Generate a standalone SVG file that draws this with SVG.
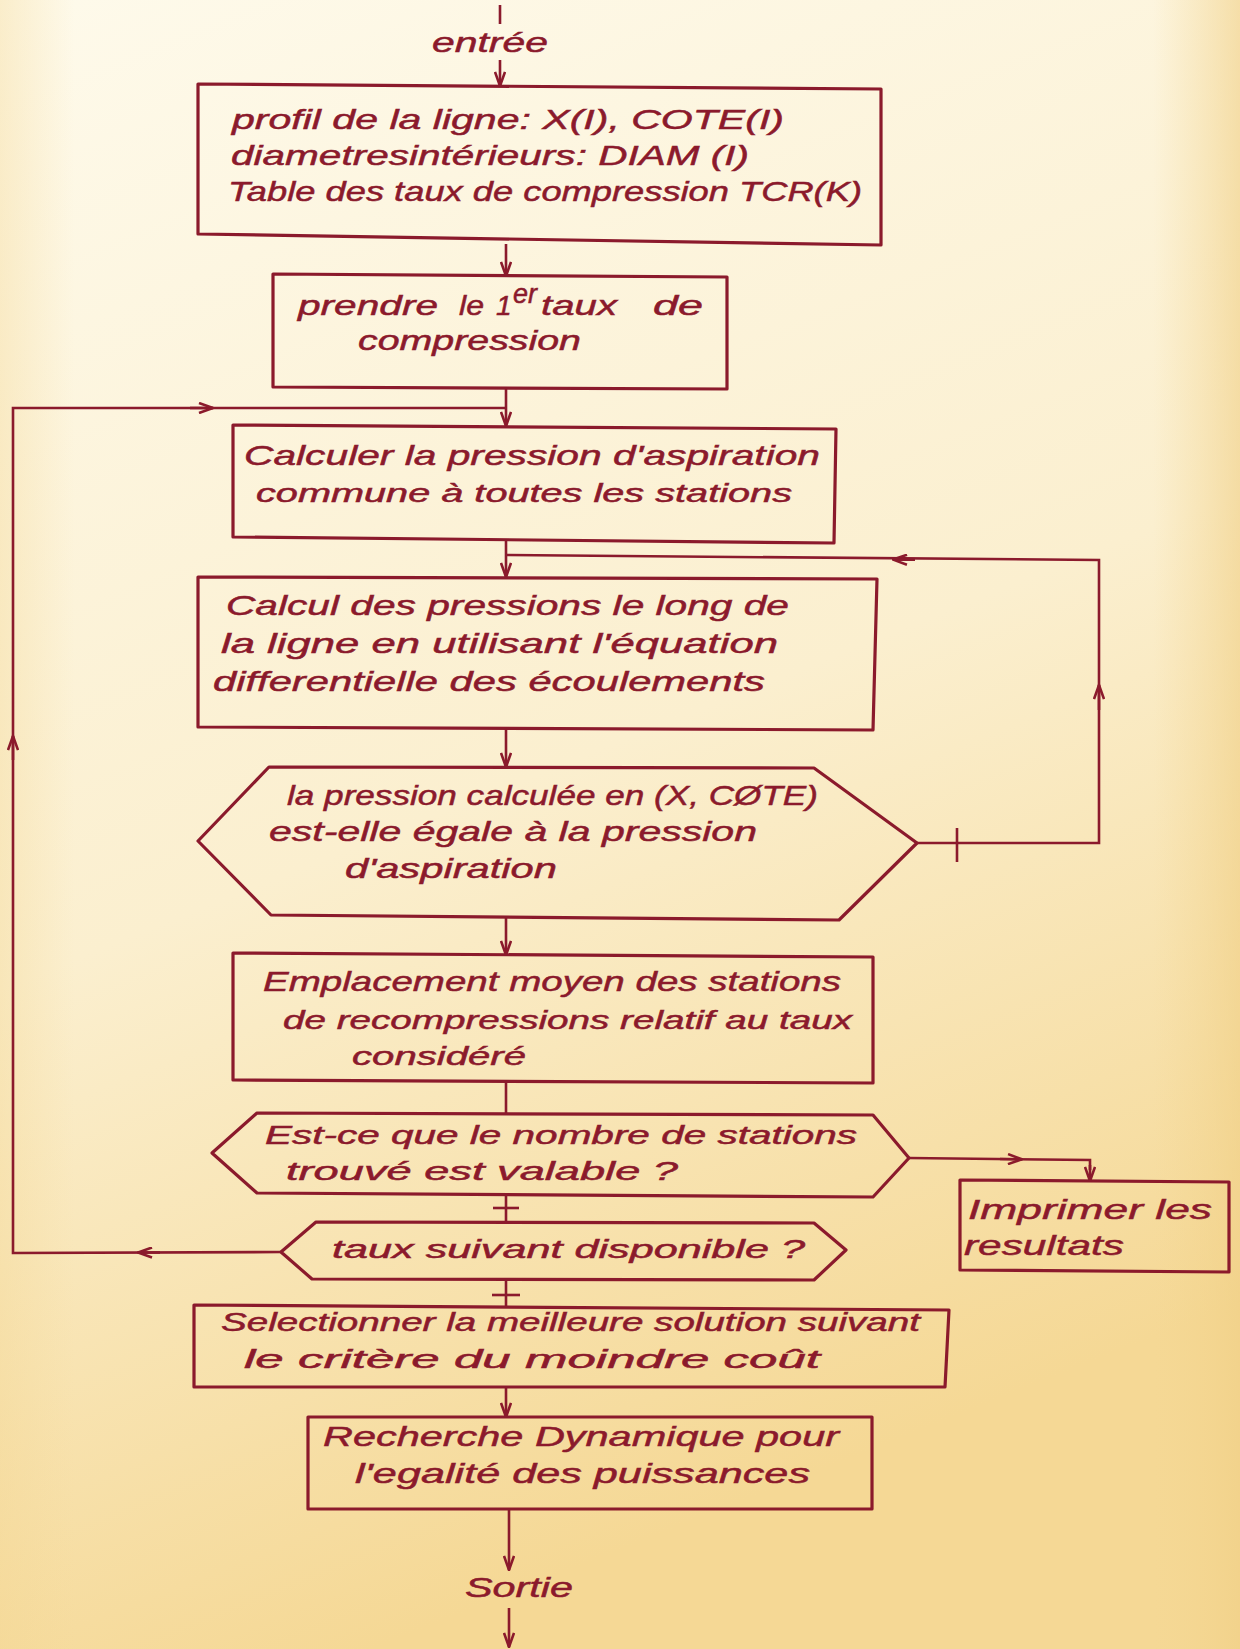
<svg xmlns="http://www.w3.org/2000/svg" width="1240" height="1649" viewBox="0 0 1240 1649">
<defs>
<linearGradient id="bg" x1="0" y1="0" x2="0.3" y2="1">
<stop offset="0" stop-color="#FEFAEB"/>
<stop offset="0.55" stop-color="#FBEFCF"/>
<stop offset="1" stop-color="#F5D895"/>
</linearGradient>
<linearGradient id="edge" x1="0" y1="0" x2="1" y2="0">
<stop offset="0" stop-color="#F3D58F" stop-opacity="0.35"/>
<stop offset="0.06" stop-color="#F3D58F" stop-opacity="0"/>
<stop offset="0.93" stop-color="#F3D58F" stop-opacity="0"/>
<stop offset="1" stop-color="#F0CF85" stop-opacity="0.6"/>
</linearGradient>
<marker id="arr" viewBox="0 0 16 12" refX="15" refY="6" markerWidth="16" markerHeight="12" markerUnits="userSpaceOnUse" orient="auto">
<path d="M1,1 L15,6 L1,11" fill="none" stroke="#8B1A2C" stroke-width="2.6" stroke-linejoin="miter"/>
</marker>
<style>
.n{fill:none;stroke:#8B1A2C;stroke-width:3.2;stroke-linejoin:round}
.c{fill:none;stroke:#8B1A2C;stroke-width:2.6}
.a{fill:none;stroke:#8B1A2C;stroke-width:2.6;marker-end:url(#arr)}
.t{font-family:"Liberation Sans","DejaVu Sans",sans-serif;font-style:italic;fill:#8B1A2C;stroke:#8B1A2C;stroke-width:0.5;font-size:28px}
.s{font-size:25px}
</style>
</defs>
<rect x="0" y="0" width="1240" height="1649" fill="url(#bg)"/>
<rect x="0" y="0" width="1240" height="1649" fill="url(#edge)"/>

<g id="connectors">
<line class="c" x1="500" y1="5" x2="500" y2="24"/>
<line class="a" x1="500" y1="60" x2="500" y2="86"/>
<line class="a" x1="506" y1="244" x2="506" y2="276"/>
<line class="a" x1="506" y1="388" x2="506" y2="426"/>
<polyline class="c" points="281,1252 13,1253 13,408 506,408"/>
<line class="a" x1="160" y1="1252.5" x2="138" y2="1252.5"/>
<line class="a" x1="13" y1="760" x2="13" y2="736"/>
<line class="a" x1="190" y1="408" x2="213" y2="408"/>
<line class="a" x1="506" y1="540" x2="506" y2="577"/>
<polyline class="c" points="917,843 1099,843 1099,560 506,555"/>
<line class="a" x1="1099" y1="710" x2="1099" y2="685"/>
<line class="a" x1="915" y1="559.8" x2="893" y2="559.6"/>
<line class="c" x1="957" y1="828" x2="957" y2="862"/>
<line class="a" x1="506" y1="729" x2="506" y2="767"/>
<line class="a" x1="506" y1="918" x2="506" y2="955"/>
<line class="c" x1="506" y1="1082" x2="506" y2="1114"/>
<polyline class="c" points="909,1158 1090,1160 1090,1170"/>
<line class="a" x1="1090" y1="1165" x2="1090" y2="1181"/>
<line class="a" x1="1000" y1="1159" x2="1022" y2="1159.3"/>
<line class="c" x1="506" y1="1196" x2="506" y2="1222"/>
<line class="c" x1="493" y1="1208" x2="519" y2="1208"/>
<line class="c" x1="506" y1="1280" x2="506" y2="1306"/>
<line class="c" x1="492" y1="1295" x2="520" y2="1295"/>
<line class="a" x1="506" y1="1387" x2="506" y2="1417"/>
<line class="a" x1="509" y1="1509" x2="509" y2="1570"/>
<line class="a" x1="509" y1="1608" x2="509" y2="1647"/>
</g>

<g id="entree"><text class="t" x="432" y="52" textLength="116" lengthAdjust="spacingAndGlyphs">entrée</text></g>

<g id="node-donnees">
<polygon class="n" points="198,84 881,89 881,245 198,234"/>
<text class="t" x="232" y="129" textLength="552" lengthAdjust="spacingAndGlyphs">profil de la ligne: X(I), COTE(I)</text>
<text class="t" x="231" y="165" textLength="518" lengthAdjust="spacingAndGlyphs">diametresintérieurs:  DIAM (I)</text>
<text class="t" x="228" y="201" textLength="634" lengthAdjust="spacingAndGlyphs">Table  des  taux de compression  TCR(K)</text>
</g>

<g id="node-premier-taux">
<polygon class="n" points="273,274 727,277 727,389 273,387"/>
<text class="t" x="298" y="315" textLength="140" lengthAdjust="spacingAndGlyphs">prendre</text>
<text class="t" x="459" y="315" textLength="25" lengthAdjust="spacingAndGlyphs">le</text>
<text class="t" x="496" y="315">1</text>
<text class="t" x="513" y="303" font-size="19" textLength="24" lengthAdjust="spacingAndGlyphs">er</text>
<text class="t" x="541" y="315" textLength="76" lengthAdjust="spacingAndGlyphs">taux</text>
<text class="t" x="653" y="315" textLength="50" lengthAdjust="spacingAndGlyphs">de</text>
<text class="t" x="358" y="350" textLength="223" lengthAdjust="spacingAndGlyphs">compression</text>
</g>

<g id="node-pression-aspiration">
<polygon class="n" points="233,425 836,429 834,543 233,537"/>
<text class="t" x="244" y="465" textLength="576" lengthAdjust="spacingAndGlyphs">Calculer  la  pression  d'aspiration</text>
<text class="t s" x="256" y="502" textLength="536" lengthAdjust="spacingAndGlyphs">commune à  toutes  les  stations</text>
</g>

<g id="node-calcul-pressions">
<polygon class="n" points="198,577 877,579 873,730 198,727"/>
<text class="t" x="226" y="615" textLength="563" lengthAdjust="spacingAndGlyphs">Calcul  des  pressions  le long  de</text>
<text class="t" x="221" y="653" textLength="557" lengthAdjust="spacingAndGlyphs">la  ligne  en  utilisant  l'équation</text>
<text class="t" x="213" y="691" textLength="552" lengthAdjust="spacingAndGlyphs">differentielle  des  écoulements</text>
</g>

<g id="node-test-pression">
<polygon class="n" points="198,841 269,767 814,768 917,843 839,920 271,915"/>
<text class="t" x="287" y="805" textLength="531" lengthAdjust="spacingAndGlyphs">la  pression  calculée en (X, CØTE)</text>
<text class="t" x="269" y="841" textLength="488" lengthAdjust="spacingAndGlyphs">est-elle  égale  à  la  pression</text>
<text class="t" x="345" y="878" textLength="212" lengthAdjust="spacingAndGlyphs">d'aspiration</text>
</g>

<g id="node-emplacement">
<polygon class="n" points="233,953 873,957 873,1083 233,1080"/>
<text class="t" x="263" y="991" textLength="578" lengthAdjust="spacingAndGlyphs">Emplacement  moyen  des stations</text>
<text class="t s" x="283" y="1029" textLength="569" lengthAdjust="spacingAndGlyphs">de recompressions  relatif au taux</text>
<text class="t s" x="352" y="1065" textLength="174" lengthAdjust="spacingAndGlyphs">considéré</text>
</g>

<g id="node-test-nombre">
<polygon class="n" points="212,1153 257,1113 873,1115 909,1158 873,1197 257,1193"/>
<text class="t s" x="265" y="1144" textLength="592" lengthAdjust="spacingAndGlyphs">Est-ce que  le  nombre  de  stations</text>
<text class="t s" x="286" y="1180" textLength="392" lengthAdjust="spacingAndGlyphs">trouvé  est  valable ?</text>
</g>

<g id="node-imprimer">
<polygon class="n" points="960,1180 1229,1182 1229,1272 960,1270"/>
<text class="t" x="968" y="1219" textLength="244" lengthAdjust="spacingAndGlyphs">Imprimer les</text>
<text class="t" x="964" y="1255" textLength="160" lengthAdjust="spacingAndGlyphs">resultats</text>
</g>

<g id="node-taux-suivant">
<polygon class="n" points="281,1252 316,1222 814,1223 846,1250 814,1280 312,1279"/>
<text class="t s" x="332" y="1258" textLength="473" lengthAdjust="spacingAndGlyphs">taux  suivant  disponible ?</text>
</g>

<g id="node-selection">
<polygon class="n" points="194,1305 949,1310 945,1387 194,1387"/>
<text class="t s" x="221" y="1331" textLength="699" lengthAdjust="spacingAndGlyphs">Selectionner  la  meilleure  solution  suivant</text>
<text class="t s" x="244" y="1368" textLength="576" lengthAdjust="spacingAndGlyphs">le  critère  du  moindre  coût</text>
</g>

<g id="node-recherche">
<polygon class="n" points="308,1417 872,1417 872,1509 308,1509"/>
<text class="t" x="323" y="1446" textLength="516" lengthAdjust="spacingAndGlyphs">Recherche  Dynamique  pour</text>
<text class="t" x="355" y="1483" textLength="455" lengthAdjust="spacingAndGlyphs">l'egalité  des  puissances</text>
</g>

<g id="sortie"><text class="t" x="465" y="1597" textLength="108" lengthAdjust="spacingAndGlyphs">Sortie</text></g>
</svg>
